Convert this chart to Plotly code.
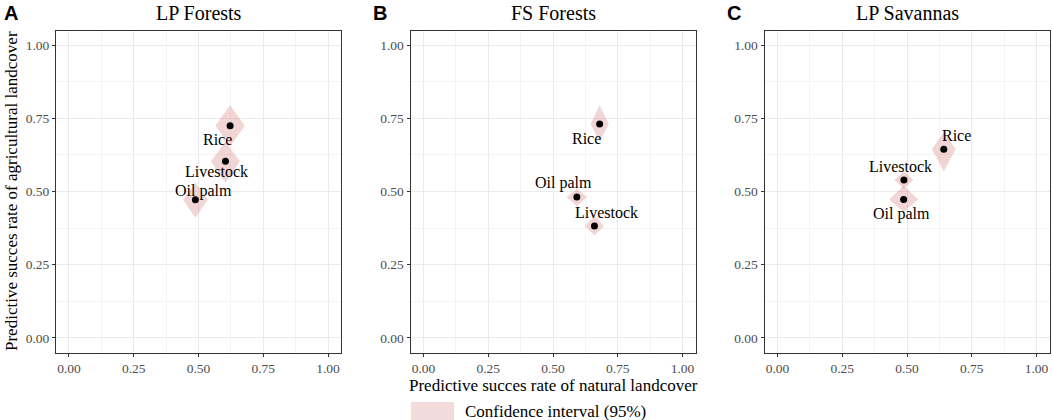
import plotly.graph_objects as go

W, H = 1052, 420

# ---------------- data ----------------
panel_titles = ["LP Forests", "FS Forests", "LP Savannas"]
panel_letters = ["A", "B", "C"]

labels_A = ["Rice", "Livestock", "Oil palm"]
x_A = [0.622, 0.604, 0.488]
y_A = [0.725, 0.603, 0.472]
xlo_A = [0.565, 0.548, 0.440]
xhi_A = [0.679, 0.660, 0.536]
ylo_A = [0.655, 0.530, 0.410]
yhi_A = [0.795, 0.670, 0.530]

labels_B = ["Rice", "Oil palm", "Livestock"]
x_B = [0.680, 0.592, 0.660]
y_B = [0.731, 0.481, 0.382]
xlo_B = [0.645, 0.553, 0.623]
xhi_B = [0.715, 0.631, 0.697]
ylo_B = [0.670, 0.450, 0.350]
yhi_B = [0.795, 0.510, 0.417]

labels_C = ["Rice", "Livestock", "Oil palm"]
x_C = [0.642, 0.488, 0.487]
y_C = [0.644, 0.539, 0.473]
xlo_C = [0.596, 0.451, 0.431]
xhi_C = [0.688, 0.525, 0.543]
ylo_C = [0.569, 0.510, 0.430]
yhi_C = [0.702, 0.570, 0.520]

tick_vals = [0, 0.25, 0.5, 0.75, 1.0]
tick_text = ["0.00", "0.25", "0.50", "0.75", "1.00"]

x_title = "Predictive succes rate of natural landcover"
y_title = "Predictive succes rate of agricultural landcover"
legend_label = "Confidence interval (95%)"

# ---------------- styles ----------------
# label pixel offsets (dx right, dy up) per panel
offsets = [
    [(-13, -14), (-9, -10), (8, 9)],
    [(-13, -15), (-13, 14), (12, 14)],
    [(13, 14), (-3, 14), (-2, -15)],
]
panels = [
    (labels_A, x_A, y_A, xlo_A, xhi_A, ylo_A, yhi_A),
    (labels_B, x_B, y_B, xlo_B, xhi_B, ylo_B, yhi_B),
    (labels_C, x_C, y_C, xlo_C, xhi_C, ylo_C, yhi_C),
]
x_domains_px = [(56, 341), (410.5, 695.5), (764.5, 1049.5)]
y_domain_px = (30.5, 352.5)
letter_x_px = [11, 380, 734]

SERIF = "Liberation Serif"
SANS = "Liberation Sans"
FILL = "rgba(205,92,92,0.25)"

fig = go.Figure()
annotations = []

for i, (labs, xs, ys, xlo, xhi, ylo, yhi) in enumerate(panels):
    ax = "" if i == 0 else str(i + 1)
    xref, yref = "x" + ax, "y" + ax
    for j in range(len(labs)):
        px = [xlo[j], xs[j], xhi[j], xs[j], xlo[j]]
        py = [ys[j], yhi[j], ys[j], ylo[j], ys[j]]
        fig.add_trace(go.Scatter(x=px, y=py, fill="toself", fillcolor=FILL,
                                 mode="lines", line=dict(width=0),
                                 hoverinfo="skip", showlegend=False,
                                 xaxis=xref, yaxis=yref))
    fig.add_trace(go.Scatter(x=xs, y=ys, mode="markers",
                             marker=dict(color="black", size=7),
                             showlegend=False, xaxis=xref, yaxis=yref))
    for j, lab in enumerate(labs):
        dx, dy = offsets[i][j]
        annotations.append(dict(x=xs[j], y=ys[j], xref=xref, yref=yref,
                                text=lab, showarrow=False, xshift=dx, yshift=dy,
                                font=dict(family=SERIF, size=16, color="black")))
    d0, d1 = x_domains_px[i]
    axis_common = dict(range=[-0.05, 1.05], tickvals=tick_vals, ticktext=tick_text,
                       showgrid=True, gridcolor="#EBEBEB", gridwidth=1,
                       zeroline=False, showline=True, linecolor="#333333",
                       linewidth=1, mirror=True, ticks="outside", ticklen=3,
                       tickcolor="#333333", tickwidth=1,
                       tickfont=dict(family=SERIF, size=13.5, color="#4D4D4D"),
                       minor=dict(tick0=0.125, dtick=0.25, showgrid=True,
                                  gridcolor="#F4F4F4", gridwidth=0.6, ticks=""),
                       fixedrange=True)
    fig.layout["xaxis" + ax] = dict(domain=[d0 / W, d1 / W], anchor=yref, **axis_common)
    fig.layout["yaxis" + ax] = dict(domain=[1 - y_domain_px[1] / H, 1 - y_domain_px[0] / H],
                                    anchor=xref, **axis_common)
    annotations.append(dict(x=(d0 + d1) / 2 / W, y=1 - 12.5 / H, xref="paper", yref="paper",
                            text=panel_titles[i], showarrow=False,
                            xanchor="center", yanchor="middle",
                            font=dict(family=SERIF, size=20, color="black")))
    annotations.append(dict(x=letter_x_px[i] / W, y=1 - 12.5 / H, xref="paper", yref="paper",
                            text="<b>" + panel_letters[i] + "</b>", showarrow=False,
                            xanchor="center", yanchor="middle",
                            font=dict(family=SANS, size=20, color="black")))

annotations.append(dict(x=553 / W, y=1 - 385 / H, xref="paper", yref="paper",
                        text=x_title, showarrow=False, xanchor="center", yanchor="middle",
                        font=dict(family=SERIF, size=17, color="black")))
annotations.append(dict(x=12 / W, y=1 - 191 / H, xref="paper", yref="paper",
                        text=y_title, showarrow=False, textangle=-90,
                        xanchor="center", yanchor="middle",
                        font=dict(family=SERIF, size=17, color="black")))
annotations.append(dict(x=463 / W, y=1 - 411 / H, xref="paper", yref="paper",
                        text=legend_label, showarrow=False, xanchor="left", yanchor="middle",
                        font=dict(family=SERIF, size=17, color="black")))

fig.update_layout(
    width=W, height=H,
    margin=dict(l=0, r=0, t=0, b=0),
    paper_bgcolor="white", plot_bgcolor="white",
    showlegend=False,
    annotations=annotations,
    shapes=[dict(type="rect", xref="paper", yref="paper",
                 x0=411 / W, x1=454 / W, y0=0, y1=1 - 402 / H,
                 fillcolor="rgba(205,92,92,0.22)", line=dict(width=0), layer="above")],
)

fig.write_html("out.html", config={"displayModeBar": False},
               post_script="document.body.style.margin='0';document.body.style.overflow='hidden';")
